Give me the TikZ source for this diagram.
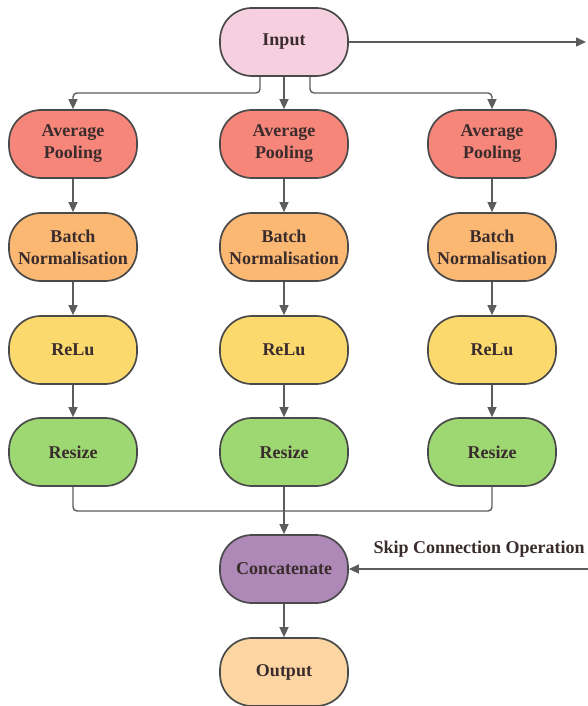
\documentclass[tikz,border=0pt]{standalone}
\usepackage{fontspec}
\setmainfont{Liberation Serif}
\usetikzlibrary{arrows.meta}
\definecolor{edgegray}{HTML}{4A4A4A}
\definecolor{linegray}{HTML}{5C5C5C}
\definecolor{txt}{HTML}{3A2C2C}
\definecolor{cinput}{HTML}{F7D0E0}
\definecolor{cpool}{HTML}{F7867A}
\definecolor{cbatch}{HTML}{FBB872}
\definecolor{crelu}{HTML}{FBD96C}
\definecolor{cresize}{HTML}{9DD872}
\definecolor{cconcat}{HTML}{AE88B6}
\definecolor{coutput}{HTML}{FDD5A2}
\tikzset{
  block/.style={draw=edgegray, line width=1.7pt, rounded corners=32pt,
    minimum width=128pt, minimum height=68pt, align=center,
    font=\fontsize{18}{22}\selectfont\bfseries, text=txt, inner sep=2pt},
  link/.style={draw=linegray, line width=1.4pt, rounded corners=4pt},
  arr/.style={link, -{Triangle[length=10pt,width=9pt]}},
}
\begin{document}
\begin{tikzpicture}[x=1pt,y=-1pt]
\useasboundingbox (0,0) rectangle (587,706);
% input and the three pooling branches
\node[block, fill=cinput] (in) at (284,42) {Input};
\foreach \c/\x in {l/73, m/284, r/492} {
  \node[block, fill=cpool]   (pool\c)  at (\x,144) {Average\\Pooling};
  \node[block, fill=cbatch]  (bn\c)    at (\x,247) {Batch\\Normalisation};
  \node[block, fill=crelu]   (relu\c)  at (\x,350) {ReLu};
  \node[block, fill=cresize] (res\c)   at (\x,452) {Resize};
  \draw[arr] (pool\c) -- (bn\c);
  \draw[arr] (bn\c) -- (relu\c);
  \draw[arr] (relu\c) -- (res\c);
}
\node[block, fill=cconcat] (cat) at (284,569) {Concatenate};
\node[block, fill=coutput] (out) at (284,672) {Output};
% fan-out from the input
\draw[arr] (in.south -| 260,0) -- (260,93) -- (73,93) -- (pooll.north);
\draw[arr] (in) -- (poolm);
\draw[arr] (in.south -| 310,0) -- (310,93) -- (492,93) -- (poolr.north);
% skip connection
\coordinate (skipend) at (586,42);
\coordinate (skipstart) at (588,569);
\draw[arr] (in.east) -- (skipend);
\draw[arr] (skipstart) -- (cat.east);
\node[font=\fontsize{18}{20}\selectfont\bfseries, text=txt, anchor=south west]
  (skiplbl) at (370,561) {Skip Connection Operation};
% merge into concatenate
\draw[link] (resl.south) -- (73,511) -- (492,511) -- (resr.south);
\draw[arr] (resm) -- (cat);
\draw[arr] (cat) -- (out);
\end{tikzpicture}
\end{document}
